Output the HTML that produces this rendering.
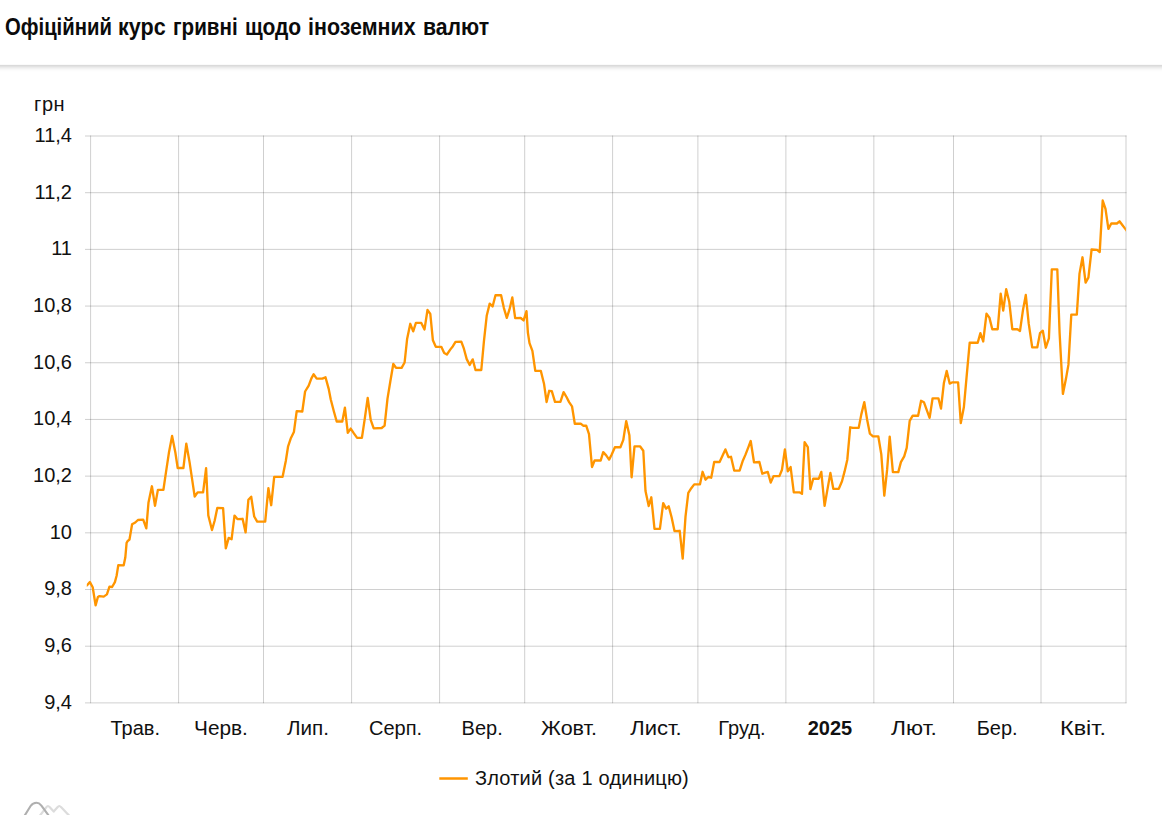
<!DOCTYPE html>
<html><head><meta charset="utf-8"><title>chart</title>
<style>
html,body{margin:0;padding:0;background:#fff;}
body{width:1162px;height:815px;position:relative;overflow:hidden;font-family:"Liberation Sans",sans-serif;color:#111;}
.t{position:absolute;white-space:nowrap;line-height:1;}
.title{left:5px;top:16px;font-size:23.5px;font-weight:bold;color:#0b0b0b;transform:scaleX(0.906);transform-origin:0 0;}
.shadow{position:absolute;left:0;top:64px;width:1162px;height:8px;background:linear-gradient(to bottom,#fafafa 0px,#fafafa 1px,#dadada 1px,#dadada 2px,#e2e2e2 2px,#e2e2e2 3px,#ebebeb 3px,#ebebeb 4px,#f2f2f2 4px,#f2f2f2 5px,#f8f8f8 5px,#f8f8f8 6px,#fcfcfc 6px,#fcfcfc 7px,#fefefe 7px,#fefefe 8px);}
.yl{font-size:20px;width:60px;left:12px;text-align:right;}
.xl{font-size:20px;width:100px;text-align:center;top:717.5px;}
.xl.b{font-weight:bold;font-size:20px;}
.leg{left:475px;top:768px;font-size:20px;letter-spacing:0.2px;}
</style></head><body>
<div class="t title" style="left:4.80px;transform:scaleX(0.8625)">Офіційний</div>
<div class="t title" style="left:118.10px;transform:scaleX(0.9193)">курс</div>
<div class="t title" style="left:173.12px;transform:scaleX(0.8758)">гривні</div>
<div class="t title" style="left:245.12px;transform:scaleX(0.8934)">щодо</div>
<div class="t title" style="left:308.10px;transform:scaleX(0.9120)">іноземних</div>
<div class="t title" style="left:423.44px;transform:scaleX(0.9029)">валют</div>

<div class="shadow"></div>

<svg id="ch" width="1162" height="815" viewBox="0 0 1162 815" style="position:absolute;left:0;top:0">
<path d="M85 136.00H1126.5M85 192.69H1126.5M85 249.38H1126.5M85 306.07H1126.5M85 362.76H1126.5M85 419.45H1126.5M85 476.14H1126.5M85 532.83H1126.5M85 589.52H1126.5M85 646.21H1126.5M85 702.90H1126.5" stroke="#000" stroke-opacity="0.19" stroke-width="1" fill="none"/>
<path d="M90.6 135.5V703.2M178.6 135.5V703.2M263.5 135.5V703.2M351.6 135.5V703.2M439.6 135.5V703.2M524.7 135.5V703.2M612.6 135.5V703.2M697.9 135.5V703.2M785.9 135.5V703.2M873.85 135.5V703.2M953.5 135.5V703.2M1041.0 135.5V703.2M1126.0 135.5V703.2" stroke="#000" stroke-opacity="0.19" stroke-width="1" fill="none"/>
<defs><clipPath id="cp"><rect x="86.8" y="100" width="1039.1" height="640"/></clipPath></defs>
<polyline clip-path="url(#cp)" points="86.3,585.7 87.3,585.0 89.9,582.1 92.7,587.3 95.6,605.4 97.9,597.0 99.5,596.1 103.7,596.6 106.9,594.4 109.5,586.6 112.1,587.0 114.9,582.1 116.6,575.7 118.3,565.1 123.7,565.3 125.3,557.6 126.6,542.8 127.6,541.2 129.5,539.5 132.1,524.3 135.3,522.5 137.9,520.0 143.2,519.7 146.3,528.3 148.5,502.4 151.9,486.3 155.0,505.7 157.9,489.9 163.4,489.9 165.7,474.1 168.9,452.8 172.1,436.0 175.4,452.8 177.7,468.0 183.4,468.0 186.3,443.7 189.6,462.4 194.7,496.6 197.6,492.4 203.1,492.4 206.1,468.2 208.3,515.4 212.0,530.0 214.7,520.5 217.3,507.9 223.1,508.1 225.8,548.4 228.7,537.9 231.6,539.2 234.5,515.6 237.4,519.1 242.6,518.8 245.6,532.4 248.4,499.7 251.2,496.7 254.2,516.5 257.2,521.6 265.2,521.6 268.4,488.1 271.2,505.2 274.2,476.8 282.6,476.8 285.8,461.0 288.1,446.3 290.7,438.6 293.9,432.1 296.7,411.2 302.3,411.5 305.1,391.5 308.7,385.7 311.3,378.6 313.6,374.3 316.7,378.6 322.3,378.6 325.5,377.3 328.7,388.9 330.7,399.2 333.9,411.5 336.7,421.5 342.3,421.5 344.9,407.6 347.8,432.8 350.7,428.6 353.9,433.4 357.1,437.9 361.9,437.9 364.9,417.9 367.7,397.9 370.7,419.9 373.7,428.3 381.7,428.0 384.6,425.7 387.5,398.6 390.4,381.0 393.3,364.0 396.0,367.8 401.6,367.8 404.6,362.5 407.1,339.1 410.3,323.8 413.2,331.3 415.9,322.9 421.3,322.9 424.5,329.4 427.5,310.0 430.3,313.9 432.9,340.3 435.8,346.8 441.3,346.8 444.2,353.0 446.9,354.5 450.4,349.4 452.9,346.2 455.5,341.9 461.3,341.6 463.9,348.7 466.7,359.1 469.7,364.9 472.7,359.4 475.5,370.0 481.3,370.0 483.9,341.6 486.7,315.8 489.7,303.6 492.6,306.5 495.5,295.2 501.1,295.2 503.9,308.1 506.8,317.8 509.5,309.4 512.3,297.5 515.2,318.1 520.7,318.0 523.6,320.4 526.5,311.2 527.9,332.8 529.5,343.1 532.4,350.8 535.3,370.8 540.8,370.8 544.0,383.7 546.6,402.1 549.2,390.8 551.8,391.2 555.0,401.8 560.4,401.8 563.6,392.1 566.5,397.0 569.1,402.1 572.0,406.3 574.8,423.7 580.7,423.7 583.2,425.7 586.2,425.7 589.0,434.1 592.0,467.0 594.6,460.5 600.7,460.5 603.2,452.1 606.2,455.4 609.1,459.6 611.6,454.7 614.9,447.2 620.4,447.2 623.3,439.9 626.2,421.1 629.4,435.3 631.6,477.3 634.5,446.3 640.0,446.3 643.3,450.8 645.5,491.0 648.7,506.0 651.3,497.3 654.5,528.9 659.9,528.9 663.2,503.1 666.1,508.6 668.7,506.3 671.6,517.3 674.5,531.1 679.7,530.8 682.7,558.6 685.5,516.6 688.3,492.8 691.3,488.2 694.2,484.4 700.0,484.3 702.6,471.8 705.5,479.7 708.3,477.0 711.2,477.7 714.2,462.0 719.6,462.0 722.6,455.5 725.4,449.4 728.4,457.2 731.0,456.8 734.2,470.6 739.6,470.6 742.6,461.3 745.4,454.9 748.4,447.1 750.7,441.0 754.0,462.3 759.4,462.0 762.3,473.7 765.2,472.7 767.8,472.0 770.7,482.5 773.6,476.1 779.4,476.1 782.0,469.7 784.9,449.4 787.8,471.4 790.6,467.1 793.8,492.3 799.4,492.3 802.0,493.8 804.6,442.2 807.8,447.1 810.4,489.1 813.2,478.7 818.8,478.7 821.3,471.9 824.6,505.8 827.5,489.1 830.4,472.9 833.3,488.8 838.8,488.8 842.0,481.3 844.6,471.4 847.3,459.7 850.2,427.3 852.9,427.9 858.7,427.9 861.3,414.4 864.3,402.1 867.1,419.5 869.9,433.7 872.9,436.3 878.3,436.3 881.3,454.4 884.3,495.7 887.1,469.9 889.7,436.6 892.9,472.1 898.3,472.1 900.9,462.1 904.2,456.3 906.7,447.9 909.7,420.8 912.7,415.7 918.1,415.7 921.1,400.8 923.9,402.2 926.7,409.8 929.6,417.9 932.6,398.3 938.4,398.3 941.0,408.5 943.9,382.9 946.7,371.0 949.7,383.6 952.5,382.3 958.1,382.3 960.8,423.1 963.9,407.0 966.5,377.8 969.7,342.7 977.7,342.7 980.4,333.1 983.2,341.5 986.5,313.7 989.4,317.6 992.3,329.2 997.7,329.2 1000.7,293.7 1003.2,310.5 1006.2,289.2 1009.3,302.1 1012.3,329.2 1017.4,329.2 1020.0,330.9 1023.0,309.9 1025.8,295.0 1028.7,323.4 1032.2,347.3 1037.3,347.3 1040.0,333.1 1042.8,330.7 1045.8,347.7 1048.9,338.3 1051.8,269.3 1057.3,269.3 1059.6,333.0 1062.9,393.9 1065.9,379.1 1068.4,364.9 1071.3,314.6 1076.8,314.6 1079.5,273.6 1082.5,257.3 1085.6,282.6 1088.4,277.7 1091.6,249.5 1097.1,249.9 1099.7,252.1 1102.7,200.5 1105.5,208.9 1108.4,228.9 1111.3,223.5 1116.9,223.5 1119.5,221.3 1122.3,225.0 1125.3,228.9 1126.6,230.6" fill="none" stroke="#ff9500" stroke-width="2.35" stroke-linejoin="round" stroke-linecap="round"/>
<path d="M439.3 778.5H467.8" stroke="#ff9500" stroke-width="2.5" fill="none"/>
<path d="M39.6 816 L46.4 807.2 Q47.9 804.9 49.6 807.1 L53.7 811.6 L57.7 807.1 Q59.2 804.9 61.0 807.1 L69.5 816" stroke="#dcdcdc" stroke-width="2.2" fill="none" stroke-linejoin="round"/>
<path d="M24.4 816 L30.6 806.0 C32.8 802.9 35.2 802.8 36.5 802.8 C38.2 802.8 39.8 803.6 41.4 805.6 L49.0 816" stroke="#afafaf" stroke-width="2.1" fill="none" stroke-linejoin="round"/>
</svg>
<div class="t" style="left:34px;top:94px;font-size:20px;letter-spacing:0.6px">грн</div>
<div class="t yl" style="top:124.8px">11,4</div>
<div class="t yl" style="top:181.5px">11,2</div>
<div class="t yl" style="top:238.2px">11</div>
<div class="t yl" style="top:294.9px">10,8</div>
<div class="t yl" style="top:351.6px">10,6</div>
<div class="t yl" style="top:408.2px">10,4</div>
<div class="t yl" style="top:464.9px">10,2</div>
<div class="t yl" style="top:521.6px">10</div>
<div class="t yl" style="top:578.3px">9,8</div>
<div class="t yl" style="top:635.0px">9,6</div>
<div class="t yl" style="top:691.7px">9,4</div>
<div class="t xl" style="left:85.2px">Трав.</div>
<div class="t xl" style="left:171.1px;transform:scaleX(1.04)">Черв.</div>
<div class="t xl" style="left:257.6px;transform:scaleX(1.03)">Лип.</div>
<div class="t xl" style="left:345.6px">Серп.</div>
<div class="t xl" style="left:432.2px">Вер.</div>
<div class="t xl" style="left:518.7px;transform:scaleX(1.075)">Жовт.</div>
<div class="t xl" style="left:606.0px;transform:scaleX(1.1)">Лист.</div>
<div class="t xl" style="left:691.9px">Груд.</div>
<div class="t xl b" style="left:779.9px">2025</div>
<div class="t xl" style="left:863.7px;transform:scaleX(1.14)">Лют.</div>
<div class="t xl" style="left:947.2px">Бер.</div>
<div class="t xl" style="left:1033.1px;transform:scaleX(1.17)">Квіт.</div>
<div class="t leg">Злотий (за 1 одиницю)</div>
</body></html>
